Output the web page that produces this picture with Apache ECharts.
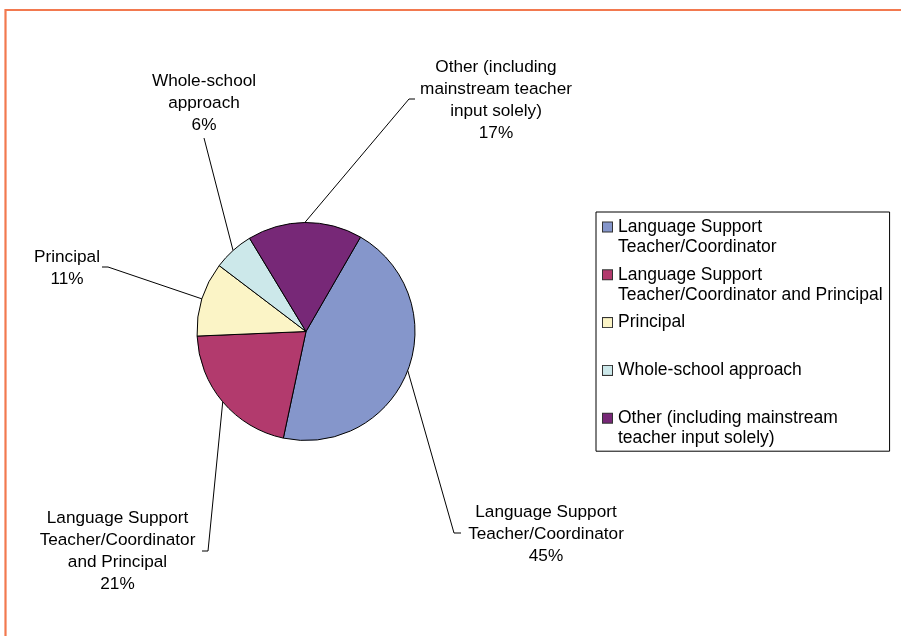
<!DOCTYPE html>
<html>
<head>
<meta charset="utf-8">
<script src="https://cdn.jsdelivr.net/npm/echarts@6/dist/echarts.min.js"></script>
<style>
html, body { margin: 0; padding: 0; background: #ffffff; }
#chart { width: 901px; height: 636px; }
</style>
</head>
<body>
<div id="chart"></div>
<script>
// ---- data ----
const categories = [
  'Language Support Teacher/Coordinator',
  'Language Support Teacher/Coordinator and Principal',
  'Principal',
  'Whole-school approach',
  'Other (including mainstream teacher input solely)'
];
const values = [45, 21, 11, 6, 17];
const labelText = [
  'Language Support\nTeacher/Coordinator',
  'Language Support\nTeacher/Coordinator\nand Principal',
  'Principal',
  'Whole-school\napproach',
  'Other (including\nmainstream teacher\ninput solely)'
];
const legendText = [
  'Language Support\nTeacher/Coordinator',
  'Language Support\nTeacher/Coordinator and Principal',
  'Principal',
  'Whole-school approach',
  'Other (including mainstream\nteacher input solely)'
];

// ---- styles / layout ----
const colors = ['#8596CB', '#B23A6D', '#FBF4C6', '#CCE8EA', '#772877'];
const FONT = '"Liberation Sans", Arial, sans-serif';
const labelPlace = [
  { x: 546, y: 534, pts: [[454, 533], [461, 533]] },
  { x: 117.5, y: 551, pts: [[208, 551], [202, 551]] },
  { x: 67, y: 268.5, pts: [[108, 267], [102, 267]] },
  { x: 204, y: 103, pts: [[204, 138]] },
  { x: 496, y: 100, pts: [[409, 99], [415, 99]] }
];

const rich = {
  t: { fontFamily: FONT, fontSize: 17.5, lineHeight: 20, color: '#000' },
  g: { width: 6, height: 10 },
  p: { width: 15, height: 10 }
};
colors.forEach((c, i) => {
  rich['s' + i] = { width: 9, height: 9, backgroundColor: c, borderColor: '#333', borderWidth: 1 };
});

const chart = echarts.init(document.getElementById('chart'), null, { renderer: 'canvas' });
chart.setOption({
  animation: false,
  backgroundColor: '#ffffff',
  color: colors,
  graphic: [{
    type: 'rect',
    silent: true,
    shape: { x: 5.5, y: 10, width: 1200, height: 1200 },
    style: { fill: 'none', stroke: '#F2794F', lineWidth: 2.2 }
  }],
  legend: {
    orient: 'vertical',
    left: 596,
    top: 212,
    icon: 'none',
    itemWidth: 0,
    itemHeight: 0,
    itemGap: 7.8,
    selectedMode: false,
    padding: [5, 7, 3, 2],
    borderColor: '#000',
    borderWidth: 1,
    data: categories,
    formatter: function (name) {
      const i = categories.indexOf(name);
      const lines = legendText[i].split('\n');
      return '{s' + i + '|}{g|}{t|' + lines[0] + '}\n{p|}{t|' + (lines[1] || ' ') + '}';
    },
    textStyle: { fontFamily: FONT, fontSize: 17.5, lineHeight: 20, color: '#000', rich: rich }
  },
  series: [{
    type: 'pie',
    center: [306, 331.5],
    radius: 109,
    startAngle: 60,
    clockwise: true,
    avoidLabelOverlap: false,
    silent: true,
    itemStyle: { borderColor: '#000', borderWidth: 1 },
    label: {
      show: true,
      position: 'outside',
      fontFamily: FONT,
      fontSize: 17.2,
      lineHeight: 22,
      color: '#000',
      align: 'center',
      formatter: function (p) { return labelText[p.dataIndex] + '\n' + values[p.dataIndex] + '%'; }
    },
    labelLine: { show: true, length: 10, length2: 5, smooth: false, lineStyle: { color: '#000', width: 1 } },
    labelLayout: function (params) {
      const lp = labelPlace[params.dataIndex];
      const start = params.labelLinePoints && params.labelLinePoints[0];
      const out = { x: lp.x, y: lp.y, align: 'center', verticalAlign: 'middle' };
      if (start) out.labelLinePoints = [start].concat(lp.pts);
      return out;
    },
    data: categories.map((c, i) => ({ name: c, value: values[i] }))
  }]
});
</script>
</body>
</html>
